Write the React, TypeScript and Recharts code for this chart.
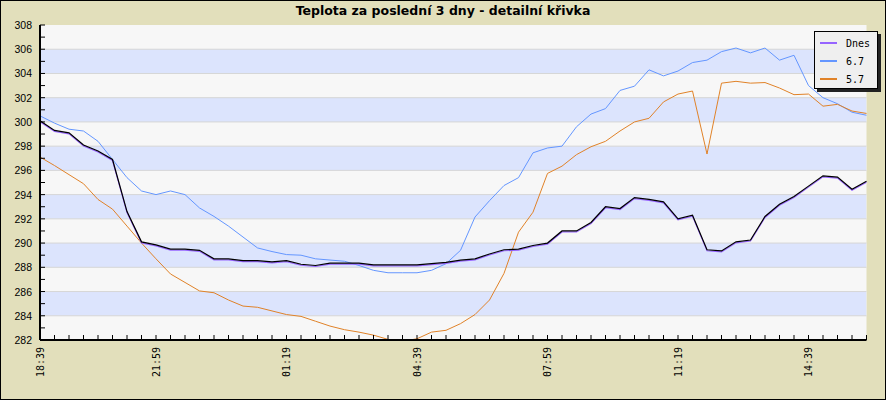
import { LineChart, Line, XAxis, YAxis, CartesianGrid, ReferenceArea, ReferenceLine, Legend } from "recharts";

// one reading every ~22 min, 58 points in total
const dnes = [
  300.1, 299.3, 299.1, 298.1, 297.6, 296.9, 292.6, 290.1, 289.85, 289.5,
  289.5, 289.4, 288.7, 288.7, 288.55, 288.55, 288.45, 288.55, 288.25, 288.15,
  288.35, 288.35, 288.35, 288.2, 288.2, 288.2, 288.2, 288.3, 288.4, 288.6,
  288.7, 289.1, 289.45, 289.5, 289.8, 290.0, 291.0, 291.0, 291.7, 293.0,
  292.85, 293.75, 293.6, 293.4, 292.0, 292.3, 289.45, 289.35, 290.1, 290.25,
  292.2, 293.2, 293.85, 294.7, 295.55, 295.45, 294.45, 295.1,
];
const den67 = [
  300.5, 299.9, 299.4, 299.25, 298.4, 296.9, 295.4, 294.3, 294.0, 294.3,
  294.0, 292.9, 292.2, 291.4, 290.5, 289.6, 289.3, 289.05, 289.0, 288.7,
  288.6, 288.5, 288.15, 287.75, 287.55, 287.55, 287.55, 287.75, 288.3, 289.4,
  292.15, 293.5, 294.75, 295.4, 297.45, 297.85, 298.0, 299.6, 300.65, 301.1,
  302.6, 302.95, 304.3, 303.8, 304.2, 304.9, 305.1, 305.8, 306.1, 305.7,
  306.1, 305.1, 305.5, 303.0, 302.0, 301.5, 300.8, 300.55,
];
const den57 = [
  297.1, 296.4, 295.65, 294.9, 293.6, 292.8, 291.4, 290.0, 288.7, 287.45,
  286.75, 286.05, 285.9, 285.3, 284.8, 284.7, 284.4, 284.1, 283.95, 283.55,
  283.15, 282.85, 282.65, 282.4, 282.05, 281.9, 282.1, 282.65, 282.8, 283.35,
  284.1, 285.3, 287.5, 290.9, 292.55, 295.75, 296.35, 297.3, 297.95, 298.4,
  299.25, 300.0, 300.3, 301.65, 302.3, 302.55, 297.35, 303.2, 303.35, 303.2,
  303.25, 302.8, 302.25, 302.3, 301.3, 301.45, 300.9, 300.7,
];

const labelIdx = [0, 8, 17, 26, 35, 44, 53];
const labelText = ["18:39", "21:59", "01:19", "04:39", "07:59", "11:19", "14:39"];

const yTicks = Array.from({ length: 27 }, (_, i) => 282 + i);
const gridValues = [284, 286, 288, 290, 292, 294, 296, 298, 300, 302, 304, 306];
const blueBands = [[284, 286], [288, 290], [292, 294], [296, 298], [300, 302], [304, 306]];

const seriesNames = ["Dnes", "6.7", "5.7"];
const seriesColors = ["#9664ff", "#6496ff", "#e08228"];

const data = dnes.map((v, i) => ({ i, dnes: v, d67: den67[i], d57: den57[i] }));
const xTicks = data.map((d) => d.i);

function XTick(props: any) {
  const { x, y, payload } = props;
  const k = labelIdx.indexOf(payload.value);
  return (
    <g>
      <line x1={x} y1={y} x2={x} y2={y - 5} stroke="#000" />
      {k >= 0 && (
        <text
          x={x}
          y={y + 7}
          transform={`rotate(-90 ${x} ${y + 7})`}
          textAnchor="end"
          dominantBaseline="central"
          fontFamily="DejaVu Sans Mono"
          fontSize={10}
          fill="#000"
        >
          {labelText[k]}
        </text>
      )}
    </g>
  );
}

function YTick(props: any) {
  const { x, y, payload } = props;
  const v = payload.value as number;
  return (
    <g>
      <line x1={x} y1={y} x2={x + 5} y2={y} stroke="#000" />
      {v % 2 === 0 && (
        <text
          x={x - 8}
          y={y}
          textAnchor="end"
          dominantBaseline="central"
          fontFamily="Liberation Sans"
          fontSize={10.5}
          fill="#000"
        >
          {v}
        </text>
      )}
    </g>
  );
}

function LegendBox() {
  return (
    <div
      style={{
        width: 62,
        height: 54,
        border: "1px solid #000",
        background: "#efefef",
        boxShadow: "3px 3px 0 #222",
        paddingTop: 2,
        boxSizing: "content-box",
      }}
    >
      {seriesNames.map((name, k) => (
        <div key={name} style={{ display: "flex", alignItems: "center", height: 18.2 }}>
          <div style={{ width: 17, height: 2, marginLeft: 5, background: seriesColors[k] }} />
          <span
            style={{
              marginLeft: 9,
              fontFamily: "DejaVu Sans Mono",
              fontSize: 10,
              color: "#000",
            }}
          >
            {name}
          </span>
        </div>
      ))}
    </div>
  );
}

export default function App() {
  return (
    <div
      style={{
        position: "absolute",
        left: 0,
        top: 0,
        width: 886,
        height: 400,
        background: "#e2dfbb",
        boxShadow: "inset 0 0 0 1px #000",
      }}
    >
      <style>{`.dnes-shadow path { transform: translate(0px, 1px); }`}</style>
      <div
        style={{
          position: "absolute",
          top: 3,
          left: 0,
          width: 886,
          textAlign: "center",
          fontFamily: "DejaVu Sans",
          fontWeight: "bold",
          fontSize: 12.5,
          lineHeight: "15px",
          color: "#000",
        }}
      >
        Teplota za poslední 3 dny - detailní křivka
      </div>
      <LineChart
        width={886}
        height={400}
        data={data}
        margin={{ top: 25, right: 19.5, bottom: 0, left: 8 }}
      >
        <CartesianGrid horizontal={false} vertical={false} fill="#f7f7f7" />
        {blueBands.map(([a, b]) => (
          <ReferenceArea key={a} y1={a} y2={b} fill="#dce4fd" fillOpacity={1} stroke="none" ifOverflow="hidden" />
        ))}
        {gridValues.map((v) => (
          <ReferenceLine key={v} y={v} stroke="#d6d6d6" strokeWidth={1} />
        ))}
        <XAxis
          dataKey="i"
          type="number"
          domain={[0, 57]}
          ticks={xTicks}
          interval={0}
          height={60}
          tickSize={0}
          tickMargin={0}
          tickLine={false}
          axisLine={{ stroke: "#000", strokeWidth: 2 }}
          tick={<XTick />}
        />
        <YAxis
          type="number"
          domain={[282, 308]}
          ticks={yTicks}
          interval={0}
          allowDataOverflow
          width={32}
          tickSize={0}
          tickMargin={0}
          tickLine={false}
          axisLine={{ stroke: "#000", strokeWidth: 2 }}
          tick={<YTick />}
        />
        <Line dataKey="d67" stroke={seriesColors[1]} strokeWidth={1} dot={false} activeDot={false} isAnimationActive={false} />
        <Line dataKey="d57" stroke={seriesColors[2]} strokeWidth={1} dot={false} activeDot={false} isAnimationActive={false} />
        <Line className="dnes-shadow" dataKey="dnes" stroke={seriesColors[0]} strokeWidth={1.2} dot={false} activeDot={false} isAnimationActive={false} />
        <Line dataKey="dnes" stroke="#000" strokeWidth={1.2} dot={false} activeDot={false} isAnimationActive={false} />
        <Legend
          layout="vertical"
          align="center"
          verticalAlign="middle"
          wrapperStyle={{ left: 814, top: 31, width: 66 }}
          content={() => <LegendBox />}
        />
      </LineChart>
    </div>
  );
}
